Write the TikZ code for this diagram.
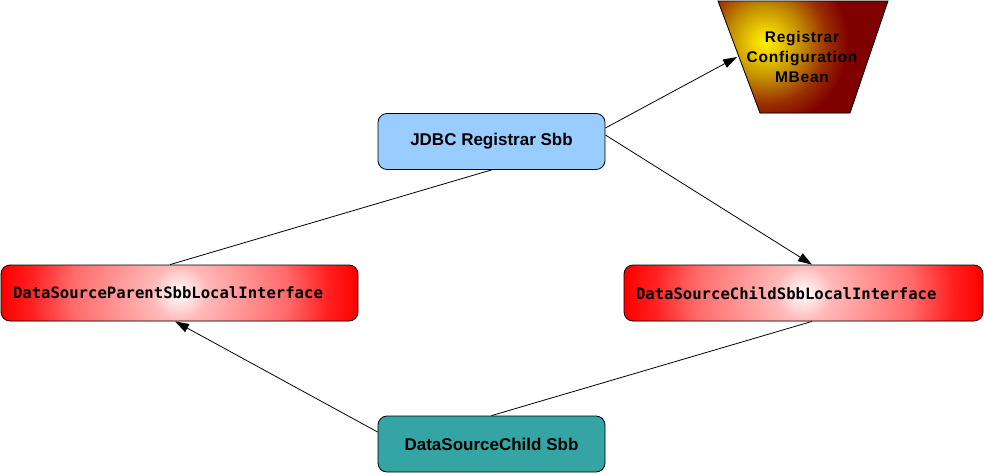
\documentclass[tikz,border=0pt]{standalone}
\usepackage{fontspec}
\setmainfont{Liberation Sans}
\setmonofont{DejaVu Sans Mono}
\usetikzlibrary{arrows.meta}
\definecolor{jblue}{HTML}{99CCFF}
\definecolor{teal2}{HTML}{34A4A4}
\definecolor{mbred}{HTML}{800000}
\definecolor{mbyel}{HTML}{FFF000}
\definecolor{mbyel2}{HTML}{EFD000}
\definecolor{mbolive}{HTML}{C08A00}
\definecolor{mbbrown}{HTML}{9A3000}
\colorlet{rg1}{white!72!red}
\colorlet{rg2}{white!42!red}
\colorlet{rg3}{white!12!red}
\pgfdeclareradialshading{redglow}{\pgfpoint{0bp}{0bp}}{color(0bp)=(white); color(4bp)=(rg1); color(15bp)=(rg2); color(21bp)=(rg3); color(25bp)=(red); color(50bp)=(red)}
\pgfdeclareradialshading{mbglow}{\pgfpoint{0bp}{0bp}}{color(0bp)=(mbyel); color(3bp)=(mbyel2); color(8.5bp)=(mbolive); color(14bp)=(mbbrown); color(19bp)=(mbred); color(50bp)=(mbred)}
\tikzset{
  sbb/.style={draw=black, line width=0.8pt, rounded corners=9pt, minimum width=227pt,
    minimum height=56pt, inner sep=0pt, font=\fontsize{17}{20}\selectfont\bfseries},
  iface/.style={draw=black, line width=0.8pt, rounded corners=9pt, minimum height=56pt,
    align=left, inner xsep=12pt, inner ysep=0pt, fill=red,
    font=\ttfamily\bfseries\fontsize{15.6}{19}\selectfont,
    path picture={\shade[shading=redglow] (path picture bounding box.center) circle (175pt);}},
  edge/.style={line width=0.8pt},
  arr/.style={edge, -{Triangle[length=14pt,width=9pt]}},
  mbtext/.style={align=center, inner sep=0pt,
    font=\fontsize{15.5}{20}\selectfont\bfseries\addfontfeature{LetterSpace=5}}
}
\begin{document}
\begin{tikzpicture}[x=1pt,y=-1pt]
\useasboundingbox (0,0) rectangle (984,474);
% MBean trapezoid
\begin{scope}
  \clip (718,1) -- (888,1) -- (850,113) -- (760,113) -- cycle;
  \fill[mbred] (700,0) rectangle (900,120);
  \shade[shading=mbglow] (765,42) circle (110);
\end{scope}
\draw[line width=0.8pt] (718,1) -- (888,1) -- (850,113) -- (760,113) -- cycle;
\node[mbtext] (mbean) at (802,57) {Registrar\\Configuration\\MBean};
\coordinate (mbeanin) at (737,57);
% nodes
\node[sbb, fill=jblue] (jdbc) at (491.5,141.5) {JDBC Registrar Sbb};
\node[sbb, fill=teal2] (dsc) at (491.5,444) {DataSourceChild Sbb};
\node[iface, text width=333pt] (parent) at (179.5,293) {DataSourceParentSbbLocalInterface};
\node[iface, text width=335pt] (child) at (803.5,293) {DataSourceChildSbbLocalInterface};
% connectors
\draw[arr] ([yshift=13.5pt]jdbc.east) -- (mbeanin);
\draw[arr] ([yshift=6.5pt]jdbc.east) -- ([xshift=8.5pt]child.north);
\draw[edge] (jdbc.south) -- ([xshift=-9.5pt]parent.north);
\draw[arr] ([yshift=12pt]dsc.west) -- ([xshift=-4.5pt]parent.south);
\draw[edge] (dsc.north) -- ([xshift=8.5pt]child.south);
\end{tikzpicture}
\end{document}
